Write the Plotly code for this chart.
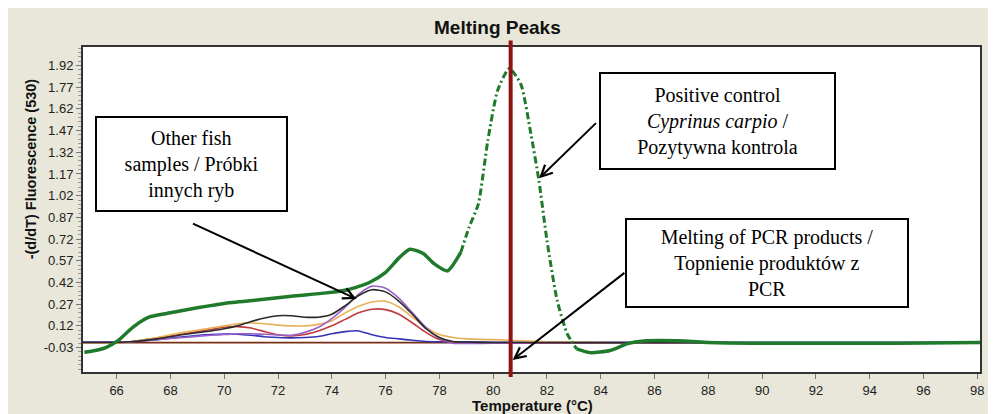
import plotly.graph_objects as go
import numpy as np

# ---------------- data ----------------
temps = [64.75, 65.5, 66.5, 67.5, 68.5, 69.5, 70.0, 70.5, 71.0, 71.5, 72.0, 72.5,
         73.0, 73.5, 74.0, 74.5, 75.0, 75.5, 76.0, 76.5, 77.0, 77.5, 78.0, 78.5,
         79.0, 80.0, 82.0, 85.0, 90.0, 98.1]

black_vals = [0.005, 0.005, 0.010, 0.030, 0.060, 0.085, 0.100, 0.120, 0.150, 0.175, 0.190, 0.190,
              0.180, 0.180, 0.200, 0.260, 0.330, 0.370, 0.355, 0.290, 0.200, 0.100, 0.040, 0.012,
              0.008, 0.005, 0.005, 0.003, 0.003, 0.003]
purple_vals = [0.005, 0.005, 0.010, 0.025, 0.040, 0.055, 0.060, 0.065, 0.065, 0.062, 0.057, 0.055,
               0.075, 0.110, 0.170, 0.250, 0.340, 0.395, 0.380, 0.310, 0.210, 0.110, 0.035, 0.000,
               -0.002, 0.000, 0.003, 0.003, 0.002, 0.002]
orange_vals = [0.000, 0.000, 0.010, 0.040, 0.075, 0.105, 0.120, 0.135, 0.140, 0.135, 0.125, 0.120,
               0.120, 0.130, 0.155, 0.210, 0.255, 0.285, 0.290, 0.250, 0.180, 0.110, 0.060, 0.040,
               0.030, 0.025, 0.010, 0.003, 0.003, 0.003]
red_vals = [0.000, 0.000, 0.010, 0.035, 0.065, 0.095, 0.110, 0.115, 0.105, 0.080, 0.058, 0.050,
            0.060, 0.085, 0.120, 0.165, 0.210, 0.235, 0.232, 0.200, 0.140, 0.075, 0.025, 0.005,
            0.000, 0.000, 0.000, 0.003, 0.000, 0.000]
blue_vals = [0.008, 0.008, 0.010, 0.025, 0.045, 0.060, 0.063, 0.062, 0.055, 0.045, 0.040, 0.037,
             0.040, 0.047, 0.065, 0.080, 0.085, 0.058, 0.040, 0.030, 0.020, 0.012, 0.010, 0.008,
             0.008, 0.007, 0.006, 0.006, 0.006, 0.006]
neg_vals = [0.004, 0.004, 0.004, 0.004, 0.004, 0.004, 0.004, 0.004, 0.004, 0.004, 0.004, 0.004,
            0.004, 0.004, 0.004, 0.004, 0.004, 0.004, 0.004, 0.004, 0.004, 0.004, 0.004, 0.004,
            0.004, 0.003, 0.003, 0.004, 0.003, 0.003]

green_temp = [64.8, 65.2, 65.6, 66.05, 66.6, 67.2, 68.0, 69.0, 70.0, 71.3, 72.5, 73.8, 74.6,
              75.4, 76.0, 76.5, 76.9, 77.4, 77.8, 78.3, 78.8, 79.1, 79.45, 79.8, 80.17, 80.6,
              81.03, 81.4, 81.7, 82.0, 82.38, 82.75, 83.1, 83.6, 84.35, 85.0, 85.6, 87.1, 88.0,
              90.0, 95.0, 98.1]
green_vals = [-0.062, -0.050, -0.030, 0.018, 0.110, 0.180, 0.210, 0.245, 0.275, 0.300, 0.325, 0.348,
              0.370, 0.420, 0.490, 0.590, 0.650, 0.620, 0.550, 0.500, 0.630, 0.800, 0.964, 1.400,
              1.750, 1.900, 1.790, 1.450, 1.125, 0.710, 0.295, 0.067, -0.039, -0.065, -0.050, -0.003,
              0.015, 0.015, 0.005, 0.000, 0.000, 0.005]
dash_start, dash_end = 78.8, 83.1
melt_temp = 80.65

y_ticks = [-0.03, 0.12, 0.27, 0.42, 0.57, 0.72, 0.87, 1.02, 1.17, 1.32, 1.47, 1.62, 1.77, 1.92]
x_ticks = list(range(66, 99, 2))

# ---------------- geometry (page has an 8px body margin) ----------------
OFF = 8
W, H = 988, 406
ML, MT = 83 - OFF, 47 - OFF
MR = W - (985 - OFF)
MB = H - (372 - OFF)
XR = [64.75, 98.1]
YR = [-0.199, 2.048]
PW, PH = W - ML - MR, H - MT - MB


def dx(sx):
    return XR[0] + (sx - OFF - ML) / PW * (XR[1] - XR[0])


def dy(sy):
    return YR[0] + (H - MB - (sy - OFF)) / PH * (YR[1] - YR[0])


def px(sx):
    return (sx - OFF - ML) / PW


def py(sy):
    return (H - MB - (sy - OFF)) / PH


fig = go.Figure()

curves = [
    (neg_vals, "#7a2e12", 1.6),
    (blue_vals, "#3434b8", 1.6),
    (red_vals, "#c03c3c", 1.6),
    (orange_vals, "#e8b057", 1.6),
    (purple_vals, "#9a62c8", 1.6),
    (black_vals, "#2a2a2a", 1.6),
]
for vals, col, w in curves:
    fig.add_trace(go.Scatter(x=temps, y=vals, mode="lines",
                             line=dict(color=col, width=w, shape="spline", smoothing=0.6),
                             showlegend=False, hoverinfo="skip"))

gt = np.array(green_temp)
gv = np.array(green_vals)
green = "#1f7a2c"
seg1 = gt <= dash_start
seg2 = (gt >= dash_start) & (gt <= dash_end)
seg3 = gt >= dash_end
fig.add_trace(go.Scatter(x=gt[seg1], y=gv[seg1], mode="lines",
                         line=dict(color=green, width=3.5, shape="spline", smoothing=0.6),
                         showlegend=False, hoverinfo="skip"))
fig.add_trace(go.Scatter(x=gt[seg2], y=gv[seg2], mode="lines",
                         line=dict(color=green, width=3, shape="spline", smoothing=0.6,
                                   dash="7px,3px,2px,3px"),
                         showlegend=False, hoverinfo="skip"))
fig.add_trace(go.Scatter(x=gt[seg3], y=gv[seg3], mode="lines",
                         line=dict(color=green, width=3.5, shape="spline", smoothing=0.6),
                         showlegend=False, hoverinfo="skip"))

# melting temperature line
fig.add_shape(type="line", xref="x", yref="paper", x0=melt_temp, x1=melt_temp,
              y0=-0.015, y1=1.02, line=dict(color="#8e1414", width=4), layer="above")

serif = "Liberation Serif, Times New Roman, serif"
box_font = dict(family=serif, size=20, color="black")

boxes = [
    ("Other fish<br>samples / Próbki<br>innych ryb", 192.5, 164, 193, 96),
    ("Positive control<br><i>Cyprinus carpio</i> /<br>Pozytywna kontrola", 721.5, 121, 237, 98),
    ("Melting of PCR products /<br>Topnienie produktów z<br>PCR", 771, 263, 284, 90),
]
bw, bp = 2, 3
for txt, cx, cy, ow, oh in boxes:
    fig.add_annotation(text=txt, x=dx(cx), y=dy(cy), xref="x", yref="y",
                       xanchor="center", yanchor="middle",
                       showarrow=False, font=box_font, align="center",
                       bgcolor="white", bordercolor="black", borderwidth=bw, borderpad=bp,
                       width=ow - 2 * (bw + bp), height=oh - 2 * (bw + bp))

arrows = [
    ((358, 299), (193, 223)),
    ((541.7, 178.3), (600, 121.7)),
    ((515, 360), (628.3, 271.7)),
]
for (tx, ty), (sx, sy) in arrows:
    fig.add_annotation(text="", x=dx(tx), y=dy(ty), xref="x", yref="y",
                       ax=sx - tx, ay=sy - ty, showarrow=True,
                       arrowhead=5, arrowsize=1.1, arrowwidth=2, arrowcolor="black")

# titles
sans = "Liberation Sans, Arial"
fig.add_annotation(text="<b>Melting Peaks</b>", xref="paper", yref="paper",
                   x=px(500), y=py(27), xanchor="center", yanchor="middle", showarrow=False,
                   font=dict(family=sans, size=19, color="#111"))
fig.add_annotation(text="<b>Temperature (°C)</b>", xref="paper", yref="paper",
                   x=px(535), y=py(405), xanchor="center", yanchor="middle", showarrow=False,
                   font=dict(family=sans, size=15, color="#111"))
fig.add_annotation(text="<b>-(d/dT) Fluorescence (530)</b>", xref="paper", yref="paper",
                   x=px(31), y=py(169), xanchor="center", yanchor="middle", showarrow=False,
                   textangle=-90, font=dict(family=sans, size=14.5, color="#111"))

fig.update_layout(
    width=W, height=H,
    margin=dict(l=ML, r=MR, t=MT, b=MB),
    paper_bgcolor="#e8e7d9",
    plot_bgcolor="white",
    showlegend=False,
    xaxis=dict(range=XR, tickvals=x_ticks, ticktext=[str(t) for t in x_ticks],
               ticks="outside", ticklen=5, tickcolor="#777", showgrid=False, zeroline=False,
               showline=True, linecolor="#333", linewidth=2, mirror=True,
               tickfont=dict(family=sans, size=13, color="#222")),
    yaxis=dict(range=YR, tickvals=y_ticks, ticktext=[f"{t:.2f}" for t in y_ticks],
               ticks="outside", ticklen=5, tickcolor="#777", showgrid=False, zeroline=False,
               showline=True, linecolor="#333", linewidth=2, mirror=True,
               minor=dict(ticks="outside", ticklen=3, tickcolor="#999", tick0=-0.03, dtick=0.03),
               tickfont=dict(family=sans, size=13, color="#222")),
)

fig.write_html("out.html")
